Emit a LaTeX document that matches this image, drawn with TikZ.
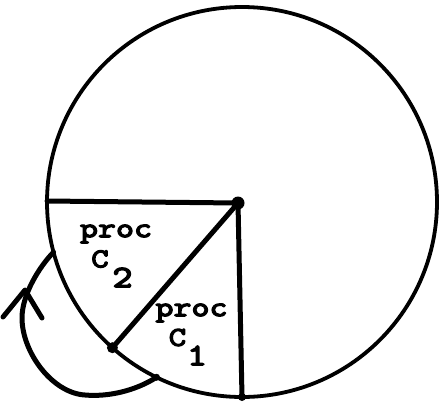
\documentclass[tikz,border=0pt]{standalone}
\usepackage{fontspec}
\newfontfamily\typefont[FakeBold=5,FakeStretch=1.25]{Latin Modern Mono}
\usetikzlibrary{calc}
\begin{document}
\begin{tikzpicture}[x=1pt,y=-1pt, line join=round, line cap=round,
  rim/.style={line width=3.8pt},
  edge/.style={line width=5pt},
  lbl/.style={font=\typefont\bfseries\fontsize{28}{28}\selectfont, inner sep=0pt, anchor=center},
  capletter/.style={font=\typefont\bfseries\fontsize{27}{27}\selectfont, inner sep=0pt, anchor=center},
  subdigit/.style={font=\typefont\bfseries\fontsize{31}{31}\selectfont, inner sep=0pt, anchor=center},
  blob/.style={circle, fill=black, inner sep=0pt, minimum size=#1}]
\useasboundingbox (0,0) rectangle (443,402);
\coordinate (C0) at (242,202);
\coordinate (O) at (238,203);
\draw[rim] (C0) circle[radius=195pt];
\coordinate (L) at (47,201);
\coordinate (B) at (242,397);
\coordinate (D) at ($(C0)+(228.35:195pt)$);
\coordinate (A1) at ($(C0)+(244:195pt)$);
\coordinate (A2) at ($(C0)+(194.9:195pt)$);
\coordinate (P) at (85,395);
\coordinate (Q) at (22,318);
\coordinate (tip) at (25,290);
% spokes
\draw[edge] (O) -- (L);
\draw[edge] (O) -- (B);
\draw[edge] (O) -- (D);
\node[blob=13pt] (hub) at (O) {};
\node[blob=11pt] (dd) at (D) {};
\node[blob=8pt] (bb) at (B) {};
\node[blob=7pt] (aa) at (A1) {};
% arrow arc
\draw[edge] (A1) .. controls (135,391) and (108,397) .. (P)
  .. controls (52,393) and (22,352) .. (Q)
  .. controls (22,294) and (40,266) .. (A2);
\draw[edge] (tip) ++(-22,27) -- (tip) -- ++(17,28);
% labels
\node[lbl] (p2) at (116,234) {proc};
\node[capletter] (c2) at (100,259) {C};
\node[subdigit] (n2) at (122.5,277.5) {2};
\node[lbl] (p1) at (191.5,313) {proc};
\node[capletter] (c1) at (177.5,337.5) {C};
\node[subdigit] (n1) at (197,355.5) {1};
\end{tikzpicture}
\end{document}
